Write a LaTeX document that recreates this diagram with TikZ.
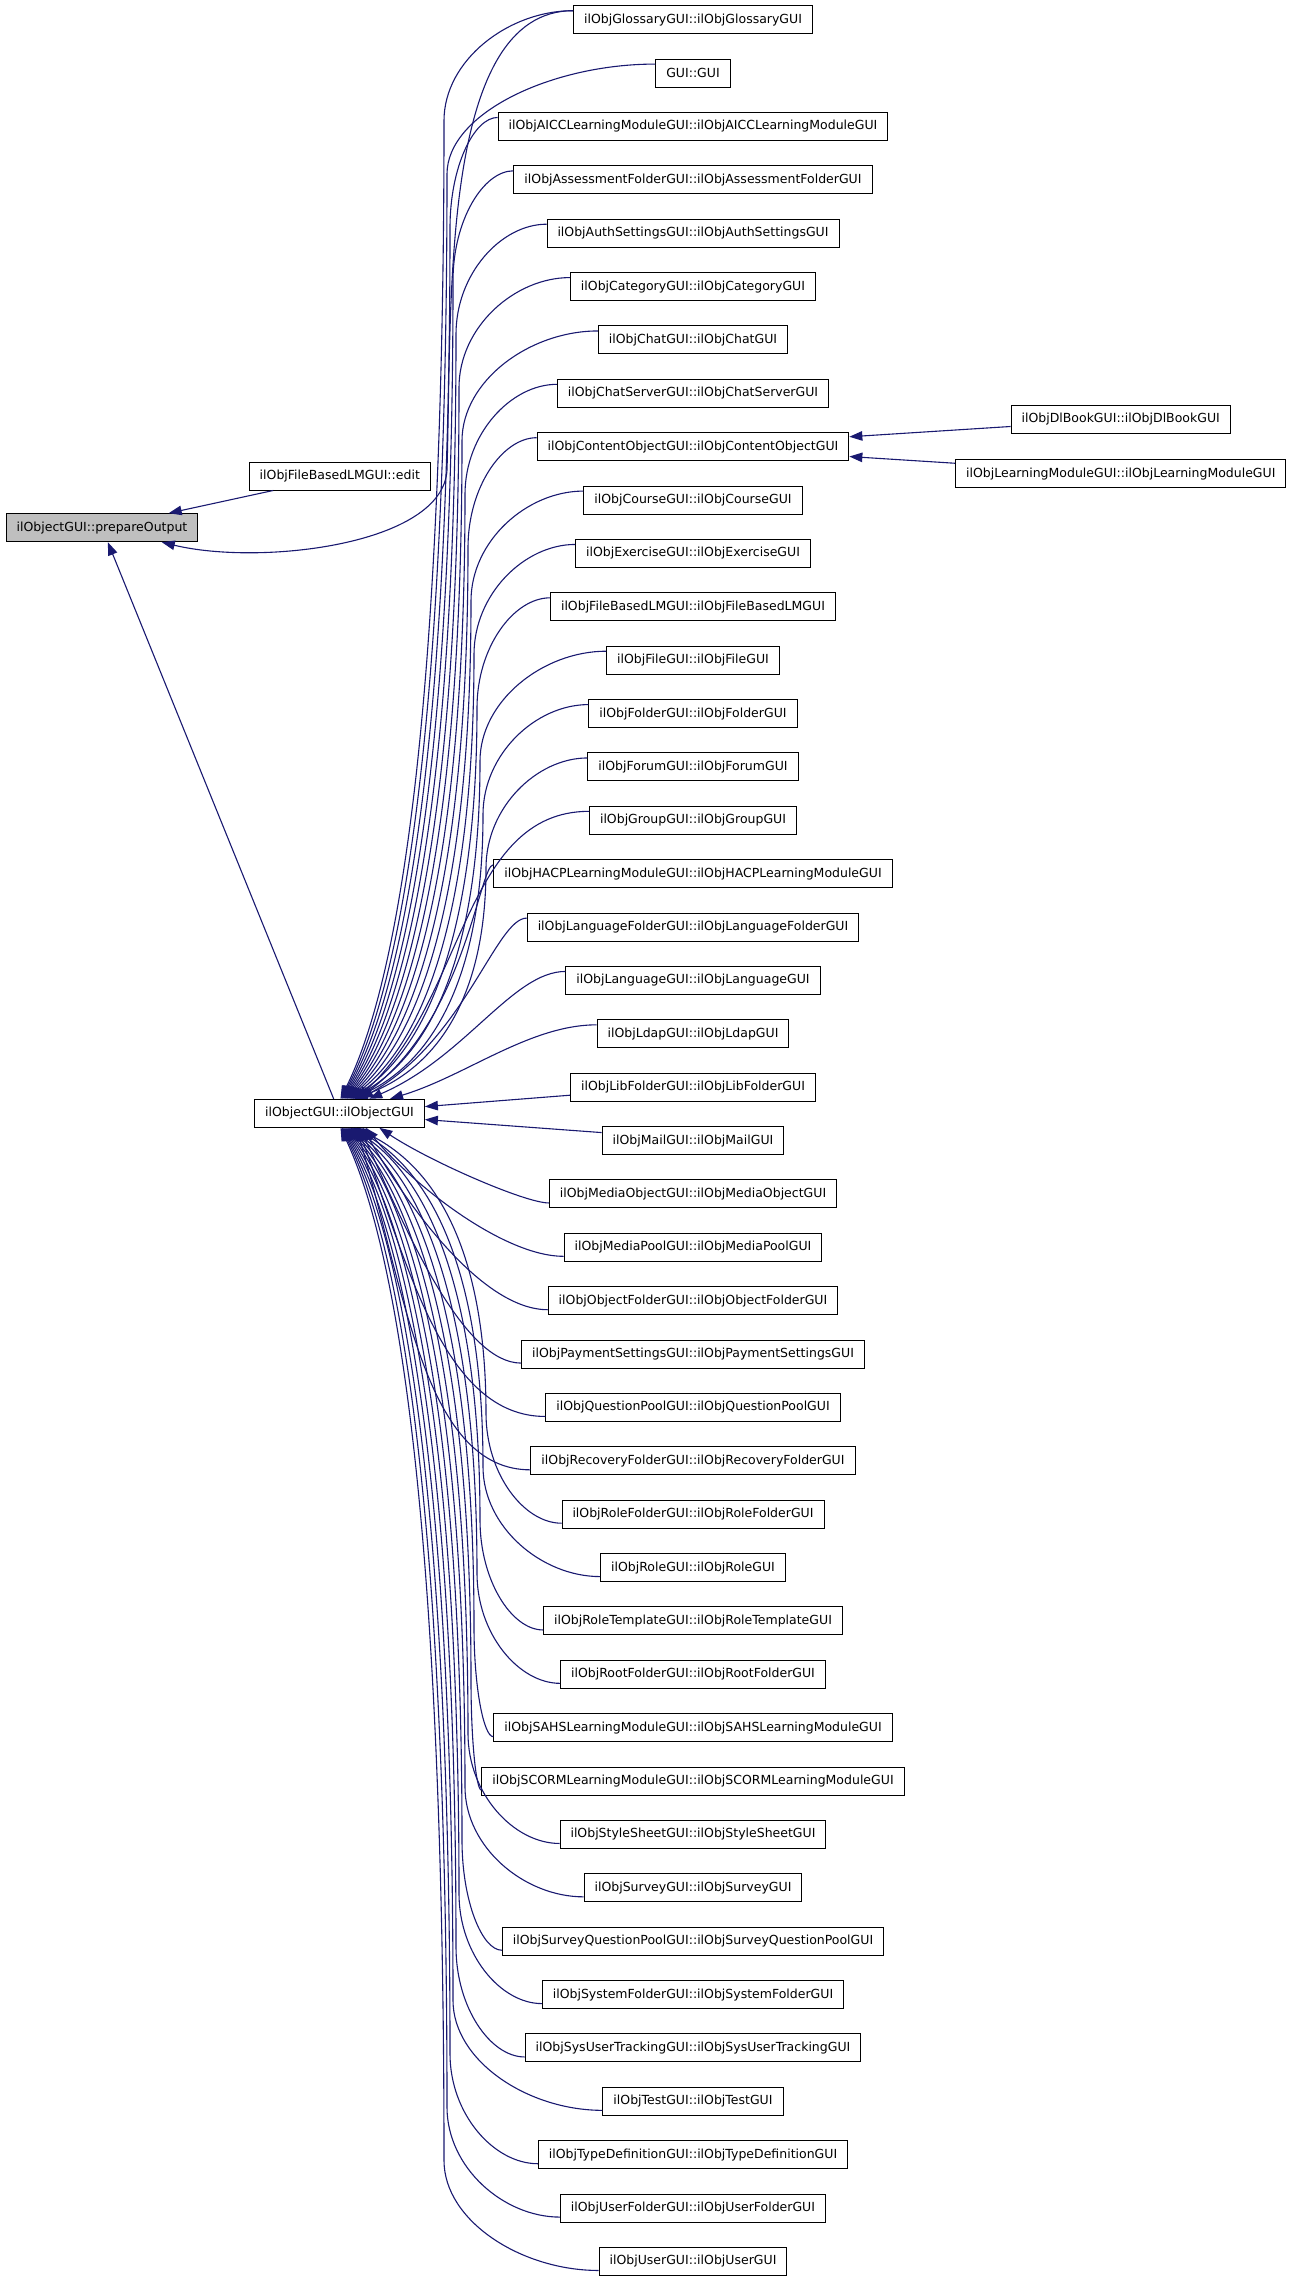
\documentclass[tikz,border=0pt]{standalone}
\usepackage{fontspec}
\setmainfont{DejaVu Sans}
\usetikzlibrary{arrows.meta,calc}
\definecolor{midnight}{HTML}{191970}
\begin{document}
\begin{tikzpicture}[x=1pt, y=1pt,
        every node/.style={font=\fontsize{12.5}{15}\selectfont},
        cls/.style={draw=black, line width=1pt, fill=white, minimum height=28pt, inner xsep=10.5pt, inner ysep=0pt},
        calls/.style={draw=midnight, line width=1.1pt, {Triangle[length=13pt, width=9.5pt]}-}]
    \useasboundingbox (0,0) rectangle (1293,-2280);
    \node[cls, fill=black!25] (prep) at (102,-527.7) {ilObjectGUI::prepareOutput};
    \node[cls] (edit) at (339.8,-476) {ilObjFileBasedLMGUI::edit};
    \node[cls] (objgui) at (339.5,-1113.3) {ilObjectGUI::ilObjectGUI};
    \foreach \name [count=\i from 0] in {ilObjGlossaryGUI::ilObjGlossaryGUI, GUI::GUI,
            ilObjAICCLearningModuleGUI::ilObjAICCLearningModuleGUI,
            ilObjAssessmentFolderGUI::ilObjAssessmentFolderGUI,
            ilObjAuthSettingsGUI::ilObjAuthSettingsGUI, ilObjCategoryGUI::ilObjCategoryGUI,
            ilObjChatGUI::ilObjChatGUI, ilObjChatServerGUI::ilObjChatServerGUI,
            ilObjContentObjectGUI::ilObjContentObjectGUI, ilObjCourseGUI::ilObjCourseGUI,
            ilObjExerciseGUI::ilObjExerciseGUI, ilObjFileBasedLMGUI::ilObjFileBasedLMGUI,
            ilObjFileGUI::ilObjFileGUI, ilObjFolderGUI::ilObjFolderGUI,
            ilObjForumGUI::ilObjForumGUI, ilObjGroupGUI::ilObjGroupGUI,
            ilObjHACPLearningModuleGUI::ilObjHACPLearningModuleGUI,
            ilObjLanguageFolderGUI::ilObjLanguageFolderGUI, ilObjLanguageGUI::ilObjLanguageGUI,
            ilObjLdapGUI::ilObjLdapGUI, ilObjLibFolderGUI::ilObjLibFolderGUI,
            ilObjMailGUI::ilObjMailGUI, ilObjMediaObjectGUI::ilObjMediaObjectGUI,
            ilObjMediaPoolGUI::ilObjMediaPoolGUI, ilObjObjectFolderGUI::ilObjObjectFolderGUI,
            ilObjPaymentSettingsGUI::ilObjPaymentSettingsGUI,
            ilObjQuestionPoolGUI::ilObjQuestionPoolGUI,
            ilObjRecoveryFolderGUI::ilObjRecoveryFolderGUI,
            ilObjRoleFolderGUI::ilObjRoleFolderGUI, ilObjRoleGUI::ilObjRoleGUI,
            ilObjRoleTemplateGUI::ilObjRoleTemplateGUI, ilObjRootFolderGUI::ilObjRootFolderGUI,
            ilObjSAHSLearningModuleGUI::ilObjSAHSLearningModuleGUI,
            ilObjSCORMLearningModuleGUI::ilObjSCORMLearningModuleGUI,
            ilObjStyleSheetGUI::ilObjStyleSheetGUI, ilObjSurveyGUI::ilObjSurveyGUI,
            ilObjSurveyQuestionPoolGUI::ilObjSurveyQuestionPoolGUI,
            ilObjSystemFolderGUI::ilObjSystemFolderGUI,
            ilObjSysUserTrackingGUI::ilObjSysUserTrackingGUI, ilObjTestGUI::ilObjTestGUI,
            ilObjTypeDefinitionGUI::ilObjTypeDefinitionGUI,
            ilObjUserFolderGUI::ilObjUserFolderGUI, ilObjUserGUI::ilObjUserGUI}
        \node[cls] (c\i) at (693,{-19.7-53.375*\i}) {\name};
    \node[cls] (dlbook) at (1120.7,-419.5) {ilObjDlBookGUI::ilObjDlBookGUI};
    \node[cls] (lmgui) at (1120.8,-473.7) {ilObjLearningModuleGUI::ilObjLearningModuleGUI};

    \draw[calls] (prep) -- (edit);
    \draw[calls] (prep) -- (objgui);
    \draw[calls] (prep) .. controls (260,-566) and (443,-545) .. (447,-470)
        .. controls (452,-300) and (440,-10.7) .. ($(c0.west)+(0,9)$);
    \draw[calls] (c8) -- (dlbook);
    \draw[calls] (c8) -- (lmgui);
    \foreach \i in {0,...,14} {
        \pgfmathtruncatemacro{\ang}{86-3*\i}
        \pgfmathsetmacro{\tx}{339.5+14/tan(\ang)}
        \pgfmathsetmacro{\ey}{-10.7-53.375*\i}
        \pgfmathsetmacro{\rad}{min(110,0.4*(\ey+1099.3))}
        \pgfmathsetmacro{\my}{\ey-\rad}
        \pgfmathsetmacro{\mx}{444+3*\i}
        \pgfmathsetmacro{\drop}{\my+1099.3}
        \draw[calls] (objgui.\ang) .. controls ({\tx+0.7*(\mx-\tx)},{-1099.3+0.15*\drop})
            and (\mx,{\my-0.5*\drop}) .. (\mx,\my)
            .. controls (\mx,{\my+0.55*\rad}) and ($(\mx,\ey)!0.5!(c\i.west |- 0,\ey)$)
            .. ($(c\i.west)+(0,9)$);
    }
    \foreach \i in {15,...,19} {
        \pgfmathtruncatemacro{\ang}{\i<18 ? 86-3*\i : (\i==18 ? 26 : 16)}
        \pgfmathsetmacro{\rowy}{-19.7-53.375*\i}
        \pgfmathsetmacro{\gap}{\rowy+1099.3}
        \pgfmathsetmacro{\py}{-1099.3+0.35*\gap}
        \pgfmathsetmacro{\ex}{425+125*max(0,1-\gap/400)}
        \draw[calls] (objgui.\ang) .. controls (465,\py) and (\ex,\rowy+9)
            .. ($(c\i.west)+(0,9)$);
    }
    \draw[calls] (objgui) -- ($(c20.west)+(0,-8)$);
    \draw[calls] (objgui) -- ($(c21.west)+(0,8)$);
    \foreach \i in {22,...,27} {
        \pgfmathtruncatemacro{\ang}{\i==22 ? 340 : 274+3*(42-\i)}
        \pgfmathsetmacro{\rowy}{-19.7-53.375*\i}
        \pgfmathsetmacro{\gap}{-1127.3-\rowy}
        \pgfmathsetmacro{\cy}{-0.5*\gap}
        \pgfmathsetmacro{\ex}{400+150*max(0,1-\gap/400)}
        \draw[calls] (objgui.\ang) .. controls ($(objgui.\ang)+(50,\cy)$) and (\ex,\rowy-9)
            .. ($(c\i.west)+(0,-9)$);
    }
    \foreach \i in {28,...,42} {
        \pgfmathtruncatemacro{\ang}{274+3*(42-\i)}
        \pgfmathsetmacro{\tx}{339.5-14/tan(\ang)}
        \pgfmathsetmacro{\ey}{-28.7-53.375*\i}
        \pgfmathsetmacro{\rad}{min(110,0.4*(-1127.3-\ey))}
        \pgfmathsetmacro{\my}{\ey+\rad}
        \pgfmathsetmacro{\mx}{444+3*(42-\i)}
        \pgfmathsetmacro{\drop}{-1127.3-\my}
        \draw[calls] (objgui.\ang) .. controls ({\tx+0.7*(\mx-\tx)},{-1127.3-0.15*\drop})
            and (\mx,{\my+0.5*\drop}) .. (\mx,\my)
            .. controls (\mx,{\my-0.55*\rad}) and ($(\mx,\ey)!0.5!(c\i.west |- 0,\ey)$)
            .. ($(c\i.west)+(0,-9)$);
    }
\end{tikzpicture}
\end{document}
